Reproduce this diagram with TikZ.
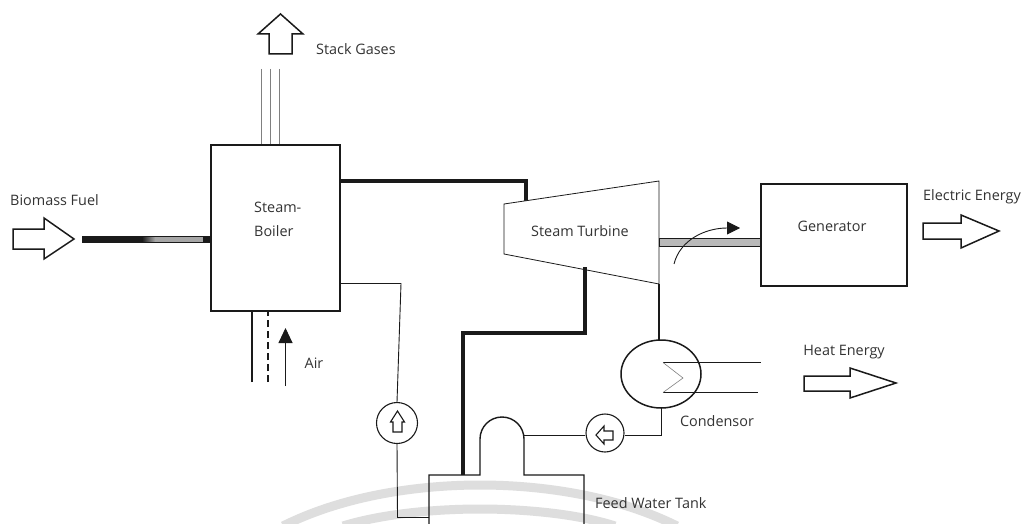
\documentclass[tikz,border=0pt]{standalone}
\usepackage{fontspec}
\setmainfont{Open Sans}
\usetikzlibrary{arrows.meta,shapes.geometric}
\definecolor{ink}{HTML}{1A1A1A}
\definecolor{lbl}{HTML}{333333}
\definecolor{wm}{HTML}{DEDEDE}
\tikzset{
  lab/.style={font=\fontsize{14.4}{16}\selectfont,text=lbl,inner sep=0pt},
  box/.style={draw=ink,line width=1.6pt,fill=white},
  thinline/.style={draw=ink,line width=0.9pt},
  pipe/.style={draw=ink,line width=1.4pt},
  heavy/.style={draw=ink,line width=3.6pt},
  blockarrow/.style={draw=ink,line width=1.5pt,fill=white,line join=miter},
  pumpc/.style={circle,draw=ink,line width=1.1pt,fill=white,inner sep=0pt},
  gas/.style={draw=gray,line width=0.7pt},
  wmark/.style={draw=wm,line width=9pt}
}
\begin{document}
\begin{tikzpicture}[x=1pt,y=-1pt]
\useasboundingbox (0,0) rectangle (1024,524);
\fill[white] (0,0) rectangle (1024,524);
% watermark
\draw[wmark] (283,526) .. controls (345,495) and (420,485) .. (480,485) .. controls (540,485) and (615,495) .. (677,526);
\draw[wmark] (343,526) .. controls (385,513) and (440,509) .. (480,509) .. controls (520,509) and (575,513) .. (615,526);
% stack
\coordinate (s1a) at (261.5,69); \coordinate (s2a) at (270.5,69); \coordinate (s3a) at (279.5,69);
\node[box,minimum width=129pt,minimum height=166pt,anchor=north west] (boiler) at (210,144) {};
\draw[gas] (s1a) -- (s1a |- boiler.north);
\draw[gas] (s2a) -- (s2a |- boiler.north);
\draw[gas] (s3a) -- (s3a |- boiler.north);
\draw[blockarrow] (280.5,14) -- (303,34) -- (292,34) -- (292,54) -- (269,54) -- (269,34) -- (258,34) -- cycle;
\node[lab,anchor=west] (stack) at (316,49) {Stack Gases};
\node[lab,anchor=west] (sb1) at (254,207) {Steam-};
\node[lab,anchor=west] (sb2) at (254,231) {Boiler};
% fuel
\draw[blockarrow] (13,229) -- (44,229) -- (44,218) -- (74,239) -- (44,259) -- (44,249) -- (13,249) -- cycle;
\node[lab,anchor=west] (fuel) at (10,200) {Biomass Fuel};
\fill[ink] (82,235.5) rectangle (210,243);
\fill[left color=ink,right color=gray!70] (142,237) rectangle (155,241.5);
\fill[gray!70] (155,237) rectangle (203,241.5);
% air
\coordinate (a1) at (252,382); \coordinate (a2) at (268,382);
\draw[pipe] (a1) -- (a1 |- boiler.south);
\draw[pipe,dash pattern=on 7pt off 4pt] (a2) -- (a2 |- boiler.south);
\coordinate (a3) at (285.5,386); \coordinate (a4) at (285.5,328);
\draw[thinline,-{Triangle[length=15pt,width=14pt]}] (a3) -- (a4);
\node[lab,anchor=center] (air) at (314,363) {Air};
% turbine
\draw[heavy,line join=miter] (boiler.north east |- 0,181) -- (526,181) -- (526,201);
\draw[draw=ink,line width=0.8pt,fill=white] (504,204) -- (659,181) -- (659,284) -- (504,254) -- cycle;
\node[lab,anchor=center] (turb) at (580,231) {Steam Turbine};
\draw[heavy,line join=miter] (585,267) -- (585,333) -- (463,333) -- (463,475);
% generator
\node[box,minimum width=146pt,minimum height=102pt,anchor=north west] (gen) at (760,183) {};
\node[lab] (gent) at (832,226) {Generator};
\draw[draw=ink,fill=gray!55,line width=0.7pt] (659,238.5) rectangle (760,246.5);
\draw[thinline,-{Triangle[length=13pt,width=13pt]}] (674,264) .. controls (680,240) and (705,228) .. (740,228);
\node[lab,anchor=west] (ee) at (923,197) {Electric Energy};
\draw[blockarrow] (923,223) -- (961,223) -- (961,215) -- (999,231) -- (961,248) -- (961,239) -- (923,239) -- cycle;
% condenser
\node[draw=ink,line width=1.5pt,fill=white,ellipse,minimum width=80pt,minimum height=68pt,inner sep=0pt] at (661,374) (cond) {};
\draw[pipe] (659,284) -- (659,340);
\draw[thinline] (663,362.5) -- (761,362.5);
\draw[thinline] (663,392.5) -- (758,392.5);
\draw[draw=gray,line width=0.6pt] (663,362.5) -- (683,378) -- (663,392.5);
\node[lab] (ct) at (717,421) {Condensor};
\node[lab] (he) at (844,352) {Heat Energy};
\draw[blockarrow] (804,376) -- (850,376) -- (850,368) -- (896,383) -- (850,398) -- (850,391) -- (804,391) -- cycle;
% tank
\draw[pipe,line join=miter] (429,524) -- (429,475) -- (480,475) -- (480,439) arc[start angle=180,end angle=360,radius=22] -- (524,475) -- (584,475) -- (584,524);
\node[lab,anchor=west] (fwt) at (595,503) {Feed Water Tank};
% pumps
\node[pumpc,minimum size=41pt] (p1) at (397,423) {};
\node[pumpc,minimum size=38pt] (p2) at (605,433) {};
\draw[draw=ink,line width=1.1pt,fill=white] (397.5,411) -- (404.5,422) -- (402,422) -- (402,432) -- (393,432) -- (393,422) -- (390.5,422) -- cycle;
\draw[draw=ink,line width=1.1pt,fill=white] (596,435) -- (604,426) -- (604,431) -- (613,431) -- (613,440) -- (604,440) -- (604,444) -- cycle;
% water lines
\draw[thinline] (339,283.5) -- (401,283.5) -- (p1.north);
\draw[thinline] (p1.south) -- (397.5,517.5) -- (429,517.5);
\draw[thinline] (661.5,408) -- (661.5,435.5) -- (p2.east |- 0,435.5);
\draw[thinline] (p2.west |- 0,435.5) -- (524,435.5);
\end{tikzpicture}
\end{document}
